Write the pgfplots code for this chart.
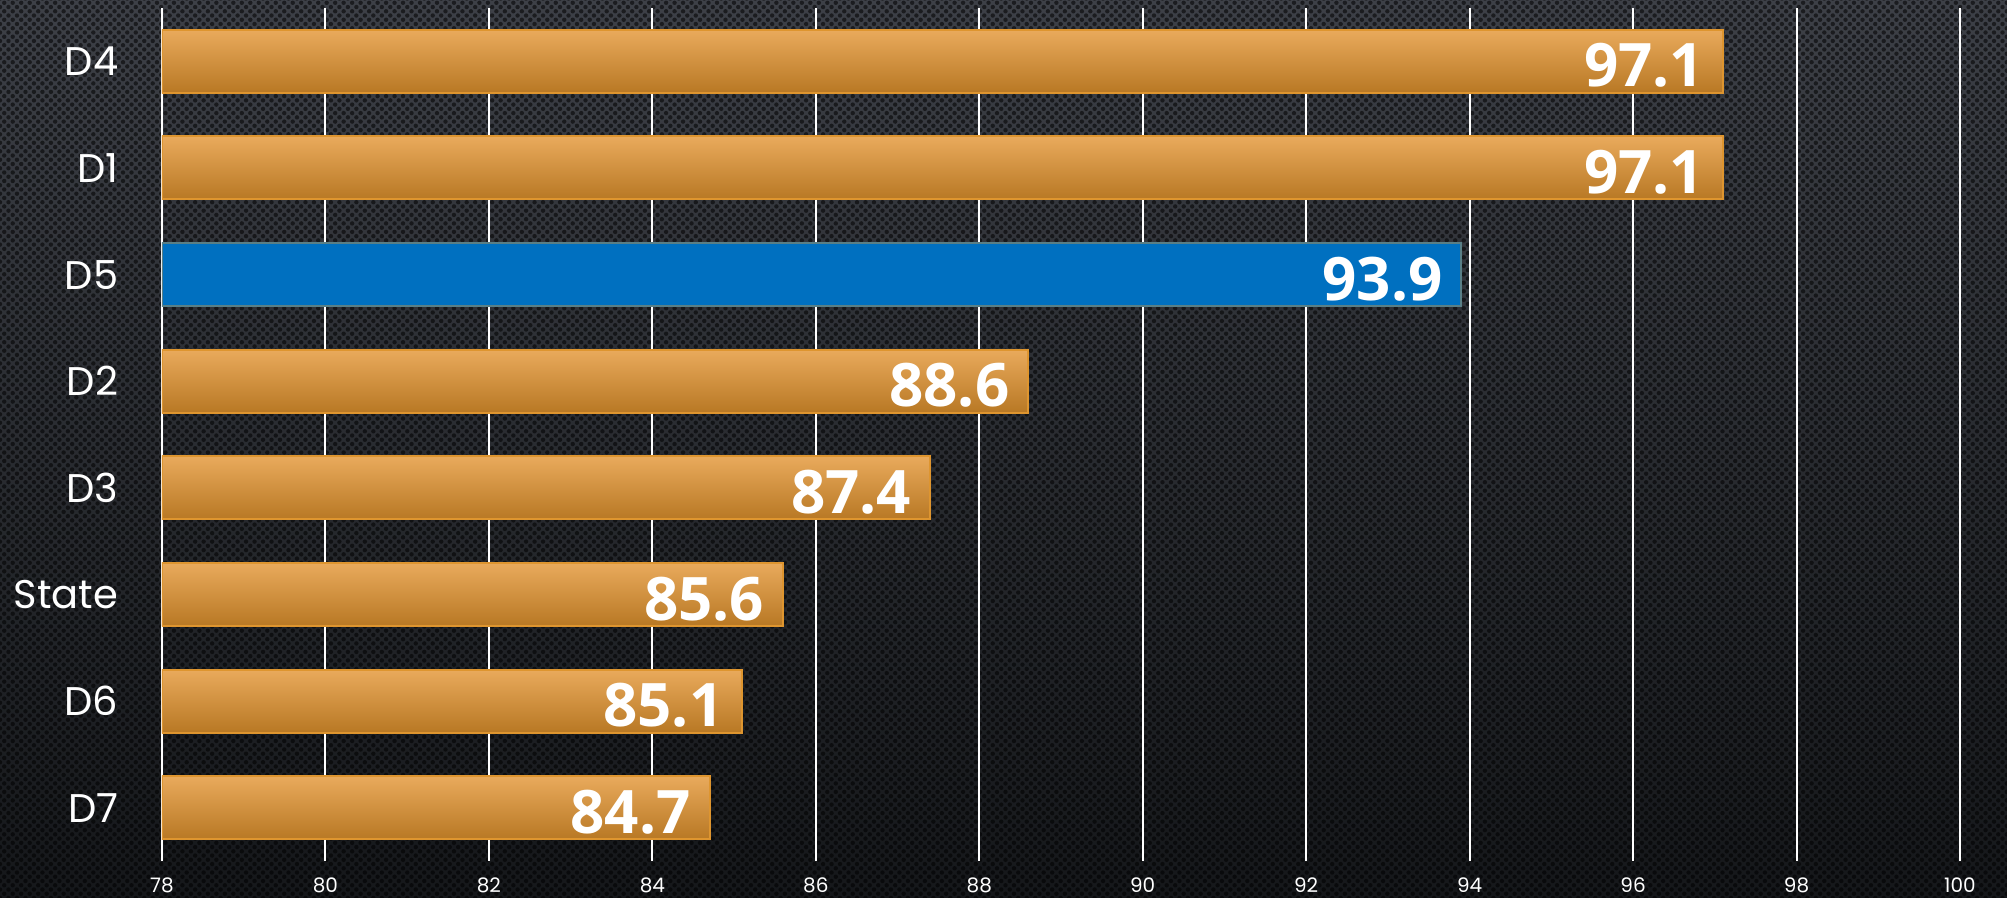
\documentclass[border=0pt]{standalone}
\usepackage{fontspec}
\usepackage{pgfplots}
\pgfplotsset{compat=1.18}
\usetikzlibrary{patterns.meta}
\setmainfont{Poppins}
\newfontfamily\valfont{Open Sans}

\definecolor{bgtop}{HTML}{3D4047}
\definecolor{bgbot}{HTML}{15171A}
\definecolor{bartop}{HTML}{E9AA5C}
\definecolor{barbot}{HTML}{B87824}
\definecolor{barline}{HTML}{DE952F}
\definecolor{blue5}{HTML}{0070C0}

\pgfplotsset{orangebar/.style={top color=bartop, bottom color=barbot, draw=barline, line width=0.5pt}}

\begin{document}
\begin{tikzpicture}
% background, 2007x898 px at 0.25pt per px
\fill[top color=bgtop, bottom color=bgbot] (-40.5pt,-9.25pt) rectangle (461.25pt,215.25pt);
\fill[pattern={Dots[radius=0.55pt,distance=1.5pt,angle=45]}, pattern color=black, fill opacity=0.55]
  (-40.5pt,-9.25pt) rectangle (461.25pt,215.25pt);
\useasboundingbox (-40.5pt,-9.25pt) rectangle (461.25pt,215.25pt);
\begin{axis}[
  scale only axis,
  width=449.5pt, height=213.25pt,
  xbar, bar width=15.75pt, bar shift=0pt,
  xmin=78, xmax=100,
  ymin=-0.5, ymax=7.5,
  xtick={78,80,...,100},
  ytick={0,...,7},
  yticklabels={D7,D6,State,D3,D2,D5,D1,D4},
  major tick length=0pt,
  axis line style={draw=none},
  xmajorgrids,
  grid style={white, line width=0.5pt},
  /pgf/number format/assume math mode=true,
  xticklabel style={font=\fontsize{5}{6}\selectfont, text=white, inner sep=0pt, yshift=-4pt},
  yticklabel style={font=\fontsize{10}{12}\selectfont, text=white, inner sep=0pt, xshift=-10.75pt},
  point meta=x,
  nodes near coords={\pgfmathprintnumber[fixed,fixed zerofill,precision=1]{\pgfplotspointmeta}},
  every node near coord/.append style={anchor=east, xshift=-4.5pt, yshift=-1.1pt,
    font=\valfont\bfseries\fontsize{15}{17}\selectfont, text=white, inner sep=0pt},
]
\addplot[orangebar] coordinates {(84.7,0)};
\addplot[orangebar] coordinates {(85.1,1)};
\addplot[orangebar] coordinates {(85.6,2)};
\addplot[orangebar] coordinates {(87.4,3)};
\addplot[orangebar] coordinates {(88.6,4)};
\addplot[fill=blue5, draw=blue5!60!barline, line width=0.5pt] coordinates {(93.9,5)};
\addplot[orangebar] coordinates {(97.1,6)};
\addplot[orangebar] coordinates {(97.1,7)};
\end{axis}
\end{tikzpicture}
\end{document}
